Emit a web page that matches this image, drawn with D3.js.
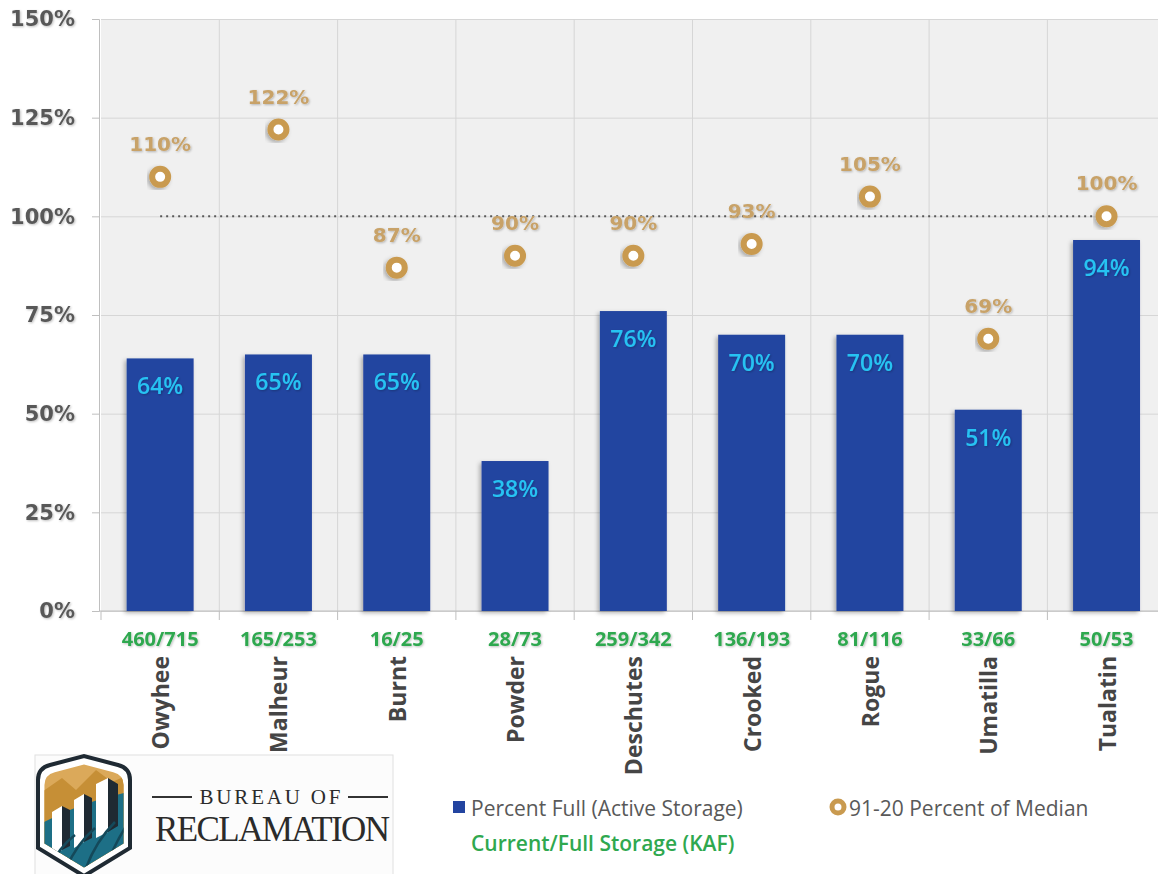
<!DOCTYPE html>
<html>
<head>
<meta charset="utf-8">
<script src="https://cdn.jsdelivr.net/npm/d3@7"></script>
<style>
  body { margin: 0; background: #fff; }
  svg { display: block; }
</style>
</head>
<body>
<div id="chart"></div>
<script>
// Reservoir basins and their values
const basins = ["Owyhee", "Malheur", "Burnt", "Powder", "Deschutes", "Crooked", "Rogue", "Umatilla", "Tualatin"];
const storageKaf = ["460/715", "165/253", "16/25", "28/73", "259/342", "136/193", "81/116", "33/66", "50/53"];
const percentFull = [64, 65, 65, 38, 76, 70, 70, 51, 94];
const percentOfMedian = [110, 122, 87, 90, 90, 93, 105, 69, 100];
const yTicks = [0, 25, 50, 75, 100, 125, 150];

const W = 1158, H = 874;
const plotLeft = 101, plotTop = 19, plotBottom = 611;
const plotRight = plotLeft + 9 * 118.3;

const svg = d3.select("#chart").append("svg")
    .attr("width", W)
    .attr("height", H);

const defs = svg.append("defs");
const shadow = defs.append("filter").attr("id", "shadow")
    .attr("x", "-30%").attr("y", "-30%").attr("width", "160%").attr("height", "160%");
shadow.append("feDropShadow")
    .attr("dx", -2).attr("dy", 2).attr("stdDeviation", 2)
    .attr("flood-color", "#000").attr("flood-opacity", 0.3);
const textShadow = defs.append("filter").attr("id", "tshadow");
textShadow.append("feDropShadow")
    .attr("dx", 1).attr("dy", 1).attr("stdDeviation", 0.8)
    .attr("flood-color", "#000").attr("flood-opacity", 0.25);

// Scales
const x = d3.scaleBand()
    .domain(basins)
    .range([plotLeft, plotRight])
    .padding(0);

const y = d3.scaleLinear()
    .domain([0, 150])
    .range([plotBottom, plotTop]);

// Plot background
svg.append("rect")
    .attr("x", plotLeft)
    .attr("y", plotTop)
    .attr("width", plotRight - plotLeft)
    .attr("height", plotBottom - plotTop)
    .attr("fill", "#f0f0f0");

// Horizontal gridlines
svg.append("g")
    .attr("transform", `translate(${plotLeft},0)`)
    .call(d3.axisLeft(y).tickValues(yTicks).tickSize(-(plotRight - plotLeft)).tickFormat(""))
    .call(g => g.select(".domain").remove())
    .call(g => g.selectAll("line").attr("stroke", "#d6d6d6"));

// Vertical gridlines at category boundaries
svg.append("g")
    .selectAll("line")
    .data(basins.slice(1))
    .join("line")
    .attr("x1", d => x(d)).attr("x2", d => x(d))
    .attr("y1", plotTop).attr("y2", plotBottom)
    .attr("stroke", "#d6d6d6");

// Y axis
const yAxis = svg.append("g")
    .attr("transform", `translate(${plotLeft - 2},0)`)
    .call(d3.axisLeft(y).tickValues(yTicks).tickSize(7).tickPadding(17).tickFormat(d => d + "%"));
yAxis.select(".domain").attr("stroke", "#bfbfbf");
yAxis.selectAll("line").attr("stroke", "#bfbfbf");
yAxis.selectAll("text")
    .attr("fill", "#595959")
    .attr("filter", "url(#tshadow)")
    .style("font-family", "'DejaVu Sans', sans-serif")
    .style("font-weight", "bold")
    .style("font-size", "21px");

// X axis with boundary ticks
const xAxis = svg.append("g");
xAxis.append("line")
    .attr("x1", plotLeft - 2).attr("x2", plotRight)
    .attr("y1", plotBottom).attr("y2", plotBottom)
    .attr("stroke", "#bfbfbf");
xAxis.selectAll("line.tick")
    .data(basins)
    .join("line")
    .attr("class", "tick")
    .attr("x1", d => x(d)).attr("x2", d => x(d))
    .attr("y1", plotBottom).attr("y2", plotBottom + 9)
    .attr("stroke", "#bfbfbf");

// Storage labels (green)
svg.append("g")
    .selectAll("text")
    .data(basins)
    .join("text")
    .attr("x", d => x(d) + x.bandwidth() / 2)
    .attr("y", 646)
    .attr("text-anchor", "middle")
    .attr("fill", "#2fa84f")
    .attr("filter", "url(#tshadow)")
    .style("font-family", "'Open Sans', sans-serif")
    .style("font-weight", "bold")
    .style("font-size", "20px")
    .text((d, i) => storageKaf[i]);

// Basin names (rotated)
svg.append("g")
    .selectAll("text")
    .data(basins)
    .join("text")
    .attr("transform", d => `translate(${x(d) + x.bandwidth() / 2 + 9},656) rotate(-90)`)
    .attr("text-anchor", "end")
    .attr("fill", "#454545")
    .style("font-family", "'Open Sans', sans-serif")
    .style("font-weight", "bold")
    .style("font-size", "23px")
    .text(d => d);

// Bars
const barW = x.bandwidth() * 0.566;
svg.append("g")
    .selectAll("rect")
    .data(basins)
    .join("rect")
    .attr("x", d => x(d) + (x.bandwidth() - barW) / 2)
    .attr("y", (d, i) => y(percentFull[i]))
    .attr("width", barW)
    .attr("height", (d, i) => plotBottom - y(percentFull[i]))
    .attr("fill", "#2344a0")
    .attr("filter", "url(#shadow)");

// Bar labels
svg.append("g")
    .selectAll("text")
    .data(basins)
    .join("text")
    .attr("x", d => x(d) + x.bandwidth() / 2)
    .attr("y", (d, i) => y(percentFull[i]) + 36)
    .attr("text-anchor", "middle")
    .attr("fill", "#27c3f2")
    .attr("filter", "url(#tshadow)")
    .style("font-family", "'Open Sans', sans-serif")
    .style("font-weight", "600")
    .style("font-size", "23px")
    .text((d, i) => percentFull[i] + "%");

// 100% reference line
svg.append("line")
    .attr("x1", x(basins[0]) + x.bandwidth() / 2)
    .attr("x2", x(basins[basins.length - 1]) + x.bandwidth() / 2)
    .attr("y1", y(100)).attr("y2", y(100))
    .attr("stroke", "#595959")
    .attr("stroke-width", 2)
    .attr("stroke-dasharray", "2,4");

// Median markers
svg.append("g")
    .selectAll("circle")
    .data(basins)
    .join("circle")
    .attr("cx", d => x(d) + x.bandwidth() / 2)
    .attr("cy", (d, i) => y(percentOfMedian[i]))
    .attr("r", 8)
    .attr("fill", "#fff")
    .attr("stroke", "#c99a4f")
    .attr("stroke-width", 6)
    .attr("filter", "url(#shadow)");

svg.append("g")
    .selectAll("text")
    .data(basins)
    .join("text")
    .attr("x", d => x(d) + x.bandwidth() / 2)
    .attr("y", (d, i) => y(percentOfMedian[i]) - 26)
    .attr("text-anchor", "middle")
    .attr("fill", "#c8a268")
    .attr("filter", "url(#tshadow)")
    .style("font-family", "'DejaVu Sans', sans-serif")
    .style("font-weight", "bold")
    .style("font-size", "20px")
    .text((d, i) => percentOfMedian[i] + "%");

// Legend
const legend = svg.append("g")
    .style("font-family", "'Open Sans', sans-serif")
    .style("font-size", "21px");
legend.append("rect")
    .attr("x", 453).attr("y", 801)
    .attr("width", 12).attr("height", 12)
    .attr("fill", "#2344a0");
legend.append("text")
    .attr("x", 471).attr("y", 816)
    .attr("fill", "#595959")
    .text("Percent Full (Active Storage)");
legend.append("circle")
    .attr("cx", 838).attr("cy", 807)
    .attr("r", 6)
    .attr("fill", "#fff")
    .attr("stroke", "#c99a4f")
    .attr("stroke-width", 5);
legend.append("text")
    .attr("x", 849).attr("y", 816)
    .attr("fill", "#595959")
    .text("91-20 Percent of Median");
legend.append("text")
    .attr("x", 471).attr("y", 851)
    .attr("fill", "#2fa84f")
    .style("font-weight", "600")
    .text("Current/Full Storage (KAF)");

// Bureau of Reclamation logo
const logo = svg.append("g");
logo.append("rect")
    .attr("x", 35).attr("y", 755)
    .attr("width", 358).attr("height", 125)
    .attr("fill", "#fcfcfc")
    .attr("stroke", "#e0e0e0");

const shield = "M38,780 Q38,768 50,765 L84,756 L118,765 Q130,768 130,780 L130,848 L84,876 L38,848 Z";
defs.append("clipPath").attr("id", "shieldClip")
    .append("path").attr("d", shield).attr("transform", "translate(84,816) scale(0.86) translate(-84,-816)");
logo.append("path").attr("d", shield)
    .attr("fill", "#fff")
    .attr("stroke", "#1f2a33")
    .attr("stroke-width", 4);
const inner = logo.append("g").attr("clip-path", "url(#shieldClip)");
inner.append("rect").attr("x", 30).attr("y", 750).attr("width", 110).attr("height", 130).attr("fill", "#dba95a");
inner.append("path").attr("d", "M30,800 L62,778 L76,790 L96,770 L112,782 L140,770 L140,880 L30,880 Z").attr("fill", "#c68f36");
inner.append("path").attr("d", "M30,830 Q80,800 140,790 L140,880 L30,880 Z").attr("fill", "#1d6f86");
inner.append("path").attr("d", "M52,812 L62,806 L62,850 L52,856 Z M74,800 L84,794 L84,842 L74,848 Z M96,784 L108,778 L108,832 L96,838 Z").attr("fill", "#fff");
inner.append("path").attr("d", "M62,806 L70,810 L70,846 L62,850 Z M84,794 L92,798 L92,838 L84,842 Z M108,778 L118,784 L118,826 L108,832 Z").attr("fill", "#1f2a33");
inner.append("path").attr("d", "M45,880 Q55,850 75,835 M62,880 Q72,848 95,828 M82,880 Q92,845 115,822 M102,880 Q110,850 130,820")
    .attr("fill", "none").attr("stroke", "#14495a").attr("stroke-width", 2.5);

logo.append("line").attr("x1", 152).attr("x2", 192).attr("y1", 797).attr("y2", 797).attr("stroke", "#333").attr("stroke-width", 2);
logo.append("line").attr("x1", 348).attr("x2", 388).attr("y1", 797).attr("y2", 797).attr("stroke", "#333").attr("stroke-width", 2);
logo.append("text")
    .attr("x", 270).attr("y", 804)
    .attr("text-anchor", "middle")
    .attr("fill", "#2b2b2b")
    .attr("textLength", 141)
    .style("font-family", "'Liberation Serif', serif")
    .style("font-size", "21px")
    .text("BUREAU OF");
logo.append("text")
    .attr("x", 155).attr("y", 841)
    .attr("fill", "#2b2b2b")
    .attr("textLength", 235)
    .style("font-family", "'Liberation Serif', serif")
    .style("font-size", "35px")
    .text("RECLAMATION");
</script>
</body>
</html>
